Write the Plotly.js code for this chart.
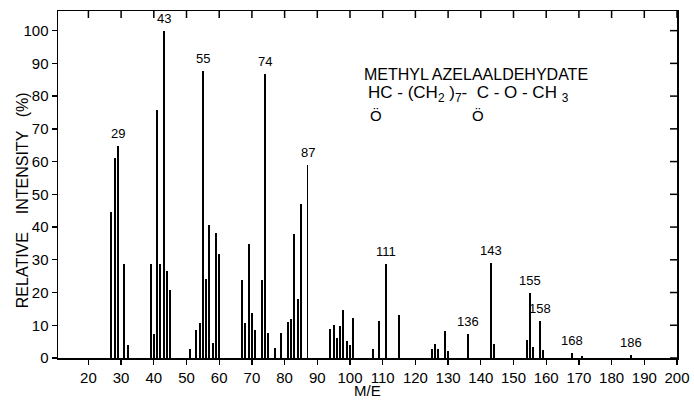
<!DOCTYPE html>
<html>
<head>
<meta charset="utf-8">
<script src="https://cdn.plot.ly/plotly-3.0.1.min.js"></script>
<style>html,body{margin:0;padding:0;background:#fff;}#chart{width:694px;height:404px;}</style>
</head>
<body>
<div id="chart"></div>
<script>
// m/e values of the peaks
const massToCharge = [27,28,29,31,32,39,40,41,42,43,44,45,51,53,54,55,56,57,58,59,60,
  67,68,69,70,71,73,74,75,77,79,81,82,83,84,85,87,94,95,96,97,98,99,100,101,
  107,109,111,115,125,126,127,129,130,136,143,144,154,155,156,158,159,168,171,186];
// relative intensity (%)
const relIntensity = [44.6,61,64.8,28.7,3.9,28.7,7.2,75.7,28.6,100,26.7,20.8,2.6,8.7,10.7,87.8,24,40.5,4.7,38.3,31.7,
  23.8,10.8,34.8,13.8,8.7,23.8,86.8,7.7,3.0,7.7,11,12,37.8,18,47,58.9,8.9,10.2,6.1,9.9,14.8,5.1,4.1,12.1,
  2.6,11.2,28.6,13.2,2.9,4.2,2.9,8.2,2.1,7.2,29,4.4,5.6,20,3.4,11.3,2.3,1.5,0.7,0.8];
// labelled peaks
const labelMz = [29,43,55,74,87,111,136,143,155,158,168,186];
const labelText = ['29','43','55','74','87','111','136','143','155','158','168','186'];
// axis ticks
const xTicks = [20,30,40,50,60,70,80,90,100,110,120,130,140,150,160,170,180,190,200];
const yTicks = [0,10,20,30,40,50,60,70,80,90,100];

const FONT = 'Liberation Sans, Arial, sans-serif';
const W = 694, H = 404;
const M = {l: 58, r: 17, t: 11, b: 46};
const plotW = W - M.l - M.r, plotH = H - M.t - M.b;

const bars = {
  type: 'bar',
  x: massToCharge,
  y: relIntensity,
  width: 0.6,
  marker: {color: '#000', line: {width: 0}},
  hoverinfo: 'x+y'
};

const annotations = labelMz.map((m, i) => ({
  x: m,
  y: relIntensity[massToCharge.indexOf(m)],
  xref: 'x', yref: 'y',
  text: labelText[i],
  showarrow: false,
  xanchor: 'center', yanchor: 'bottom',
  yshift: 3,
  font: {family: FONT, size: 13, color: '#000'}
}));

annotations.push({
  xref: 'paper', yref: 'paper', x: 0.491, y: 0.816,
  xanchor: 'left', yanchor: 'middle', showarrow: false,
  text: 'METHYL AZELAALDEHYDATE',
  font: {family: FONT, size: 16, color: '#000'}
});
annotations.push({
  xref: 'paper', yref: 'paper', x: 0.497, y: 0.762,
  xanchor: 'left', yanchor: 'middle', showarrow: false,
  text: 'HC - (CH<sub>2</sub> )<sub>7</sub>-  C - O - CH <sub>3</sub>',
  font: {family: FONT, size: 17, color: '#000'}
});
annotations.push({
  xref: 'paper', yref: 'paper', x: 0.514, y: 0.70,
  xanchor: 'center', yanchor: 'middle', showarrow: false,
  text: 'Ö',
  font: {family: FONT, size: 15, color: '#000'}
});
annotations.push({
  xref: 'paper', yref: 'paper', x: 0.678, y: 0.70,
  xanchor: 'center', yanchor: 'middle', showarrow: false,
  text: 'Ö',
  font: {family: FONT, size: 15, color: '#000'}
});
// axis titles
annotations.push({
  xref: 'paper', yref: 'paper', x: -0.058, y: 0.455,
  xanchor: 'center', yanchor: 'middle', showarrow: false, textangle: -90,
  text: 'RELATIVE&nbsp;&nbsp;&nbsp;&nbsp;INTENSITY&nbsp;&nbsp;&nbsp;(%)',
  font: {family: FONT, size: 16, color: '#000'}
});
annotations.push({
  xref: 'paper', yref: 'paper', x: 0.5, y: -0.095,
  xanchor: 'center', yanchor: 'middle', showarrow: false,
  text: 'M/E',
  font: {family: FONT, size: 15, color: '#000'}
});

// inward mirror ticks on the top and right frame edges, placed at the tick values
const tickLen = 7;
const shapes = [];
xTicks.forEach(t => shapes.push({
  type: 'line', xref: 'x', yref: 'paper', x0: t, x1: t,
  y0: 1, y1: 1 - tickLen / plotH,
  line: {color: '#000', width: 1.5}, layer: 'above'
}));
yTicks.forEach(t => shapes.push({
  type: 'line', xref: 'paper', yref: 'y', y0: t, y1: t,
  x0: 1, x1: 1 - tickLen / plotW,
  line: {color: '#000', width: 1.5}, layer: 'above'
}));

const axisCommon = {
  showgrid: false, zeroline: false, showline: true,
  linecolor: '#000', linewidth: 1.5,
  tickcolor: '#000', tickwidth: 1.3, ticklen: 5,
  tickfont: {family: FONT, size: 15, color: '#000'}
};

const layout = {
  width: W, height: H,
  margin: M,
  paper_bgcolor: '#fff', plot_bgcolor: '#fff',
  showlegend: false,
  bargap: 0,
  xaxis: Object.assign({}, axisCommon, {
    range: [10.7, 200], tickmode: 'array', tickvals: xTicks,
    ticks: 'outside', mirror: true
  }),
  yaxis: Object.assign({}, axisCommon, {
    range: [0, 106], tickmode: 'array', tickvals: yTicks,
    ticks: 'outside', mirror: true
  }),
  shapes: shapes,
  annotations: annotations
};

Plotly.newPlot('chart', [bars], layout, {displayModeBar: false, staticPlot: true});
</script>
</body>
</html>
